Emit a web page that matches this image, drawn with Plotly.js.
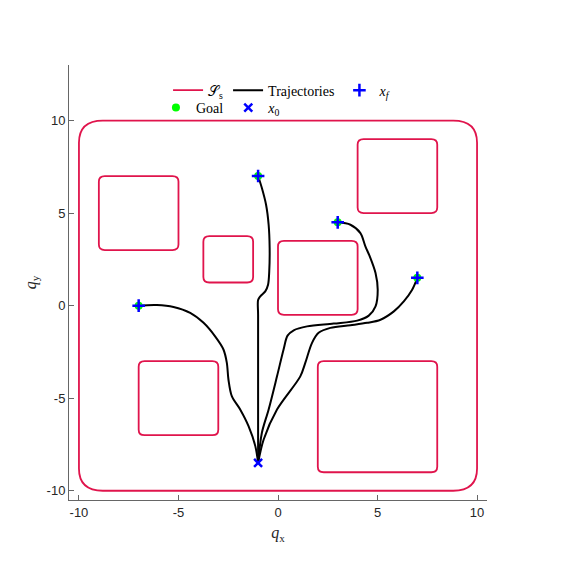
<!DOCTYPE html>
<html>
<head>
<meta charset="utf-8">
<script src="https://cdn.plot.ly/plotly-3.0.1.min.js"></script>
<style>
  html, body { margin: 0; padding: 0; background: #fff; }
  #chart { width: 562px; height: 569px; }
</style>
</head>
<body>
<div id="chart"></div>
<script>
/* data */
// safe sets: rounded boxes [x0, x1, y0, y1]
const box_x0 = [-10, -9, -3.75, 0, 4, -7, 2];
const box_x1 = [10, -5, -1.25, 4, 8, -3, 8];
const box_y0 = [-10, 3, 1.25, -0.5, 5, -7, -9];
const box_y1 = [10, 7, 3.75, 3.5, 9, -3, -3];

// trajectories from x0 to each goal
const traj_a_x = [-1, -1.14, -1.48, -1.90, -2.32, -2.49, -2.57, -2.74, -3.16, -3.74, -4.41, -5.25, -6.09, -7];
const traj_a_y = [-8.5, -7.59, -6.51, -5.61, -4.89, -3.99, -3.09, -2.37, -1.66, -0.93, -0.39, -0.07, 0.03, 0];
const traj_b_x = [-1, -1, -1, -1, -1, -0.89, -0.64, -0.50, -0.44, -0.42, -0.47, -0.60, -0.81, -1];
const traj_b_y = [-8.5, -6, -3, -0.5, 0.3, 0.50, 0.77, 1.13, 1.85, 3.11, 4.37, 5.45, 6.35, 7];
const traj_c_x = [-1, -0.81, -0.47, -0.05, 0.28, 0.48, 0.79, 1.46, 2.80, 3.98, 4.56, 4.90, 5.01, 4.90, 4.61, 4.39, 4.14, 3.64, 3];
const traj_c_y = [-8.5, -6.87, -5.61, -3.82, -2.37, -1.62, -1.33, -1.12, -0.97, -0.81, -0.54, -0.04, 0.86, 1.76, 2.66, 3.20, 3.92, 4.37, 4.5];
const traj_d_x = [-1, -0.72, -0.05, 1.12, 1.37, 1.71, 2.04, 2.63, 3.64, 4.48, 5.15, 5.82, 6.32, 6.74, 7];
const traj_d_y = [-8.5, -7.23, -5.61, -3.82, -3.09, -2.01, -1.47, -1.20, -1.06, -0.93, -0.76, -0.31, 0.23, 0.86, 1.5];

const goal_x = [-7, -1, 3, 7];
const goal_y = [0, 7, 4.5, 1.5];
const start_x = [-1];
const start_y = [-8.5];
const final_x = [-7, -1, 3, 7];
const final_y = [0, 7, 4.5, 1.5];

const x_ticks = [-10, -5, 0, 5, 10];
const x_tick_text = ['-10', '-5', '0', '5', '10'];
const y_ticks = [-10, -5, 0, 5, 10];
const y_tick_text = ['-10', '-5', '0', '5', '10'];

/* helpers */
const SAFE_COLOUR = '#e0144c';
const BLUE = '#0000ff';

// rounded box as an svg path in data coordinates
const rounded_box = (x0, x1, y0, y1, r) =>
  `M ${x0 + r},${y0} L ${x1 - r},${y0} Q ${x1},${y0} ${x1},${y0 + r} ` +
  `L ${x1},${y1 - r} Q ${x1},${y1} ${x1 - r},${y1} ` +
  `L ${x0 + r},${y1} Q ${x0},${y1} ${x0},${y1 - r} ` +
  `L ${x0},${y0 + r} Q ${x0},${y0} ${x0 + r},${y0} Z`;

const box_shapes = box_x0.map((x0, i) => ({
  type: 'path',
  xref: 'x',
  yref: 'y',
  layer: 'below',
  path: rounded_box(x0, box_x1[i], box_y0[i], box_y1[i], i === 0 ? 1.2 : 0.3),
  line: {color: SAFE_COLOUR, width: 1.8},
  fillcolor: 'rgba(0,0,0,0)',
}));

const trajectories = [
  [traj_a_x, traj_a_y],
  [traj_b_x, traj_b_y],
  [traj_c_x, traj_c_y],
  [traj_d_x, traj_d_y],
];

const data = [];
// legend entry for the safe sets (drawn as shapes)
data.push({
  x: [null], y: [null],
  mode: 'lines',
  name: '𝒮<sub>s</sub>',
  legend: 'legend',
  line: {color: SAFE_COLOUR, width: 1.8},
  hoverinfo: 'skip',
});
for (const [index, [xs, ys]] of trajectories.entries()) {
  data.push({
    x: xs, y: ys,
    mode: 'lines',
    name: 'Trajectories',
    legend: 'legend',
    legendgroup: 'traj',
    showlegend: index === 0,
    line: {color: '#000000', width: 2, shape: 'spline', smoothing: 0.9},
  });
}
data.push({
  x: goal_x, y: goal_y,
  mode: 'markers',
  name: 'Goal',
  legend: 'legend2',
  marker: {symbol: 'circle', size: 8, color: '#00ff00'},
});
data.push({
  x: start_x, y: start_y,
  mode: 'markers',
  name: '<i>x</i><sub>0</sub>',
  legend: 'legend2',
  marker: {symbol: 'x-thin-open', size: 8, color: BLUE, line: {color: BLUE, width: 2.5}},
});
data.push({
  x: final_x, y: final_y,
  mode: 'markers',
  name: '<i>x</i><sub><i>f</i></sub>',
  legend: 'legend',
  marker: {symbol: 'cross-thin-open', size: 9, color: BLUE, line: {color: BLUE, width: 2.5}},
});

const axis_common = {
  showline: true,
  linecolor: '#666666',
  linewidth: 1,
  ticks: 'inside',
  ticklen: 5,
  tickcolor: '#666666',
  showgrid: false,
  zeroline: false,
  tickfont: {family: 'Liberation Sans, Arial, sans-serif', size: 13, color: '#262626'},
  automargin: false,
};

const legend_common = {
  orientation: 'h',
  xanchor: 'left',
  yanchor: 'top',
  bgcolor: 'rgba(0,0,0,0)',
  borderwidth: 0,
  font: {family: 'Liberation Serif, DejaVu Serif, serif', size: 14, color: '#000000'},
  traceorder: 'normal',
};

const layout = {
  width: 562,
  height: 569,
  margin: {l: 69, r: 75, t: 65, b: 69},
  paper_bgcolor: '#ffffff',
  plot_bgcolor: '#ffffff',
  showlegend: true,
  xaxis: {
    ...axis_common,
    range: [-10.5, 10.5],
    tickvals: x_ticks,
    ticktext: x_tick_text,
    title: {text: '<i>q</i><sub>x</sub>', standoff: 8,
      font: {family: 'Liberation Serif, DejaVu Serif, serif', size: 16, color: '#262626'}},
  },
  yaxis: {
    ...axis_common,
    range: [-10.5, 13],
    tickvals: y_ticks,
    ticktext: y_tick_text,
    title: {text: '<i>q</i><sub>y</sub>', standoff: 6,
      font: {family: 'Liberation Serif, DejaVu Serif, serif', size: 16, color: '#262626'}},
  },
  legend: {...legend_common, x: 0.237, y: 0.978},
  legend2: {...legend_common, x: 0.208, y: 0.938},
  shapes: box_shapes,
};

Plotly.newPlot('chart', data, layout, {displayModeBar: false, staticPlot: true});
</script>
</body>
</html>
